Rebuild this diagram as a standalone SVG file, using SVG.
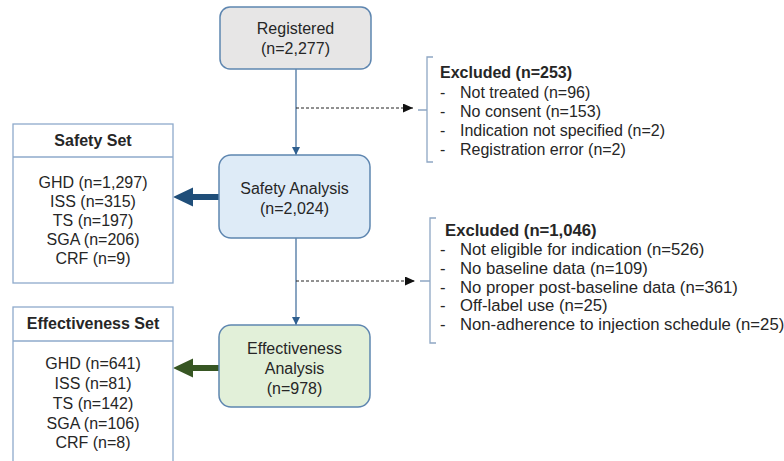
<svg xmlns="http://www.w3.org/2000/svg" width="784" height="461" viewBox="0 0 784 461">
<style>
text{font-family:"Liberation Sans",Arial,sans-serif;font-size:16px;fill:#262626}
.c{text-anchor:middle}
.b{font-weight:bold}
.l{font-size:16.7px}
.node{stroke:#5e86b0;stroke-width:1.5}
.set{fill:#fff;stroke:#8eaacb;stroke-width:1.3}
.flow{stroke:#4a74a0;stroke-width:1.3;fill:none}
.dash{stroke:#222;stroke-width:1;stroke-dasharray:3,2;fill:none}
.brk{stroke:#8ea7c4;stroke-width:1.3;fill:none}
</style>
<defs>
<marker id="ah" markerWidth="8" markerHeight="8" refX="8" refY="4" orient="auto" markerUnits="userSpaceOnUse">
<path d="M0,0 L8,4 L0,8 Z" fill="#2f5f8f"/>
</marker>
<marker id="ad" markerWidth="10" markerHeight="9" refX="10" refY="4.5" orient="auto" markerUnits="userSpaceOnUse">
<path d="M0,0 L10,4.5 L0,9 Z" fill="#111"/>
</marker>
</defs>
<g id="connectors">
<line class="flow" x1="296" y1="69" x2="296" y2="155" marker-end="url(#ah)"/>
<line class="flow" x1="296" y1="238" x2="296" y2="325" marker-end="url(#ah)"/>
<line class="dash" x1="296" y1="108" x2="413" y2="108" marker-end="url(#ad)"/>
<line class="dash" x1="296" y1="281" x2="415" y2="281" marker-end="url(#ad)"/>
<path d="M219,194 L193,194 L193,187.5 L173,197 L193,206.5 L193,200 L219,200 Z" fill="#1f4e79"/>
<path d="M219,365 L193,365 L193,358.5 L173,368 L193,377.5 L193,371 L219,371 Z" fill="#375623"/>
</g>
<g id="registered">
<rect class="node" x="220" y="7" width="151" height="62" rx="10" fill="#e7e6e6"/>
<text class="c" x="295.5" y="34">Registered</text>
<text class="c" x="295.5" y="54">(n=2,277)</text>
</g>
<g id="safety-analysis">
<rect class="node" x="219" y="155" width="151" height="83" rx="12" fill="#deebf7"/>
<text class="c" x="294.5" y="194">Safety Analysis</text>
<text class="c" x="294.5" y="214">(n=2,024)</text>
</g>
<g id="effectiveness-analysis">
<rect class="node" x="219" y="325" width="151" height="82" rx="12" fill="#e2f0d9"/>
<text class="c" x="294.5" y="354">Effectiveness</text>
<text class="c" x="294.5" y="374">Analysis</text>
<text class="c" x="294.5" y="394">(n=978)</text>
</g>
<g id="safety-set">
<rect class="set" x="13" y="124" width="160" height="159"/>
<line class="set" x1="13" y1="157" x2="173" y2="157"/>
<text class="c b" x="93" y="146">Safety Set</text>
<text class="c" x="93" y="188">GHD (n=1,297)</text>
<text class="c" x="93" y="207">ISS (n=315)</text>
<text class="c" x="93" y="226">TS (n=197)</text>
<text class="c" x="93" y="245">SGA (n=206)</text>
<text class="c" x="93" y="264">CRF (n=9)</text>
</g>
<g id="effectiveness-set">
<rect class="set" x="13" y="307" width="160" height="160"/>
<line class="set" x1="13" y1="341" x2="173" y2="341"/>
<text class="c b" x="93" y="329">Effectiveness Set</text>
<text class="c" x="93" y="369">GHD (n=641)</text>
<text class="c" x="93" y="389">ISS (n=81)</text>
<text class="c" x="93" y="409">TS (n=142)</text>
<text class="c" x="93" y="429">SGA (n=106)</text>
<text class="c" x="93" y="448">CRF (n=8)</text>
</g>
<g id="excluded-1">
<path class="brk" d="M433,57 L427,57 L427,162 L433,162 M418,110 L427,110"/>
<text class="b" x="440" y="78">Excluded (n=253)</text>
<text x="440" y="98">-</text><text x="460" y="98">Not treated (n=96)</text>
<text x="440" y="117">-</text><text x="460" y="117">No consent (n=153)</text>
<text x="440" y="136">-</text><text x="460" y="136">Indication not specified (n=2)</text>
<text x="440" y="155">-</text><text x="460" y="155">Registration error (n=2)</text>
</g>
<g id="excluded-2">
<path class="brk" d="M436,218 L430,218 L430,343 L436,343 M420,281 L430,281"/>
<text class="b l" x="445" y="236">Excluded (n=1,046)</text>
<text class="l" x="440" y="255">-</text><text class="l" x="460" y="255">Not eligible for indication (n=526)</text>
<text class="l" x="440" y="274">-</text><text class="l" x="460" y="274">No baseline data (n=109)</text>
<text class="l" x="440" y="293">-</text><text class="l" x="460" y="293">No proper post-baseline data (n=361)</text>
<text class="l" x="440" y="311">-</text><text class="l" x="460" y="311">Off-label use (n=25)</text>
<text class="l" x="440" y="330">-</text><text class="l" x="460" y="330">Non-adherence to injection schedule (n=25)</text>
</g>
</svg>
